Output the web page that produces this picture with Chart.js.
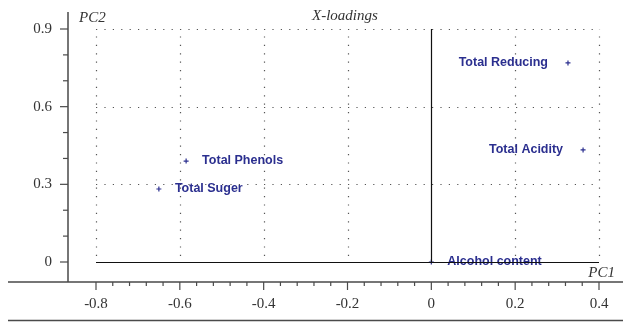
<!DOCTYPE html>
<html>
<head>
<meta charset="utf-8">
<script src="https://cdn.jsdelivr.net/npm/chart.js@4"></script>
<style>
    body { margin: 0; background: #fff; }
    #wrap { width: 623px; height: 322px; }
</style>
</head>
<body>
<div id="wrap"><canvas id="loadings"></canvas></div>
<script>
const variables = ['Total Reducing', 'Total Acidity', 'Total Phenols', 'Total Suger', 'Alcohol content'];
const pc1 = [0.326, 0.362, -0.585, -0.650, 0.0];
const pc2 = [0.769, 0.433, 0.390, 0.282, 0.0];

const xTickLabels = ['-0.8', '-0.6', '-0.4', '-0.2', '0', '0.2', '0.4'];
const yTickLabels = ['0', '0.3', '0.6', '0.9'];

const blue = '#2b2f8f';
const axisGrey = '#4a4a4a';
const serif = '"Liberation Serif", "DejaVu Serif", serif';

// frame, dotted grid, ticks and captions drawn around the plot area
const framePlugin = {
    id: 'frame',
    beforeDatasetsDraw(chart) {
        const ctx = chart.ctx;
        const xs = chart.scales.x, ys = chart.scales.y;
        const area = chart.chartArea;
        const axisX = area.left - 28;      // left vertical axis
        const axisY = area.bottom + 20;    // bottom horizontal axis

        ctx.save();

        // dotted grid
        ctx.strokeStyle = '#555';
        ctx.lineWidth = 1.2;
        ctx.setLineDash([1.2, 7.2]);
        yTickLabels.forEach(t => {
            const v = parseFloat(t);
            if (v === 0) return;
            const py = Math.round(ys.getPixelForValue(v)) + 0.5;
            ctx.beginPath();
            ctx.moveTo(area.left, py);
            ctx.lineTo(area.right, py);
            ctx.stroke();
        });
        xTickLabels.forEach(t => {
            const v = parseFloat(t);
            if (v === 0) return;
            const px = Math.round(xs.getPixelForValue(v)) + 0.5;
            ctx.beginPath();
            ctx.moveTo(px, area.bottom - 6);
            ctx.lineTo(px, area.top);
            ctx.stroke();
        });
        ctx.setLineDash([]);

        // outer axes
        ctx.strokeStyle = axisGrey;
        ctx.lineWidth = 1.5;
        ctx.beginPath();
        ctx.moveTo(axisX, 12);
        ctx.lineTo(axisX, axisY);
        ctx.moveTo(8, axisY);
        ctx.lineTo(chart.width, axisY);
        ctx.moveTo(8, chart.height - 1.5);
        ctx.lineTo(chart.width, chart.height - 1.5);
        ctx.stroke();

        // y ticks every 0.1
        ctx.lineWidth = 1.2;
        for (let i = 0; i <= 9; i++) {
            const py = ys.getPixelForValue(i / 10);
            const len = i % 3 === 0 ? 8 : 5;
            ctx.beginPath();
            ctx.moveTo(axisX - len, py);
            ctx.lineTo(axisX, py);
            ctx.stroke();
        }
        // x ticks every 0.04
        for (let i = 0; i <= 30; i++) {
            const px = xs.getPixelForValue(-0.8 + i * 0.04);
            const len = i % 5 === 0 ? 8 : 4;
            ctx.beginPath();
            ctx.moveTo(px, axisY);
            ctx.lineTo(px, axisY + len);
            ctx.stroke();
        }

        // tick labels
        ctx.fillStyle = '#333';
        ctx.font = '15px ' + serif;
        ctx.textAlign = 'right';
        ctx.textBaseline = 'middle';
        yTickLabels.forEach(t => {
            ctx.fillText(t, axisX - 16, ys.getPixelForValue(parseFloat(t)));
        });
        ctx.textAlign = 'center';
        xTickLabels.forEach(t => {
            ctx.fillText(t, xs.getPixelForValue(parseFloat(t)), axisY + 22);
        });

        // captions
        ctx.font = 'italic 15px ' + serif;
        ctx.textBaseline = 'alphabetic';
        ctx.textAlign = 'left';
        ctx.fillText('PC2', 79, 22);
        ctx.fillText('X-loadings', 312, 20);
        ctx.textAlign = 'right';
        ctx.fillText('PC1', 615, 277);

        ctx.restore();
    },
    afterDatasetsDraw(chart) {
        const ctx = chart.ctx;
        const xs = chart.scales.x, ys = chart.scales.y;
        const area = chart.chartArea;
        const meta = chart.getDatasetMeta(0);

        ctx.save();
        // variable names next to their points
        ctx.fillStyle = blue;
        ctx.font = 'bold 12.5px "Liberation Sans", Arial, sans-serif';
        ctx.textBaseline = 'middle';
        meta.data.forEach((pt, i) => {
            if (pc1[i] > 0.2) {
                ctx.textAlign = 'right';
                ctx.fillText(variables[i], pt.x - 20, pt.y);
            } else {
                ctx.textAlign = 'left';
                ctx.fillText(variables[i], pt.x + 16, pt.y);
            }
        });

        // solid zero lines
        const x0 = Math.round(xs.getPixelForValue(0)) + 0.5;
        const y0 = Math.round(ys.getPixelForValue(0)) + 0.5;
        ctx.strokeStyle = '#111';
        ctx.lineWidth = 1.2;
        ctx.beginPath();
        ctx.moveTo(area.left, y0);
        ctx.lineTo(area.right, y0);
        ctx.moveTo(x0, y0);
        ctx.lineTo(x0, area.top);
        ctx.stroke();
        ctx.restore();
    }
};

new Chart(document.getElementById('loadings'), {
    type: 'scatter',
    data: {
        datasets: [{
            label: 'X-loadings',
            data: pc1.map((x, i) => ({ x: x, y: pc2[i] })),
            pointStyle: 'cross',
            pointRadius: 2.5,
            borderColor: blue,
            backgroundColor: blue,
            borderWidth: 1.2,
            clip: false
        }]
    },
    options: {
        responsive: true,
        maintainAspectRatio: false,
        animation: false,
        layout: {
            padding: { left: 96, right: 24, top: 29, bottom: 60 }
        },
        scales: {
            x: { type: 'linear', min: -0.8, max: 0.4, display: false },
            y: { type: 'linear', min: 0, max: 0.9, display: false }
        },
        plugins: {
            legend: { display: false },
            tooltip: { enabled: false }
        }
    },
    plugins: [framePlugin]
});
</script>
</body>
</html>
